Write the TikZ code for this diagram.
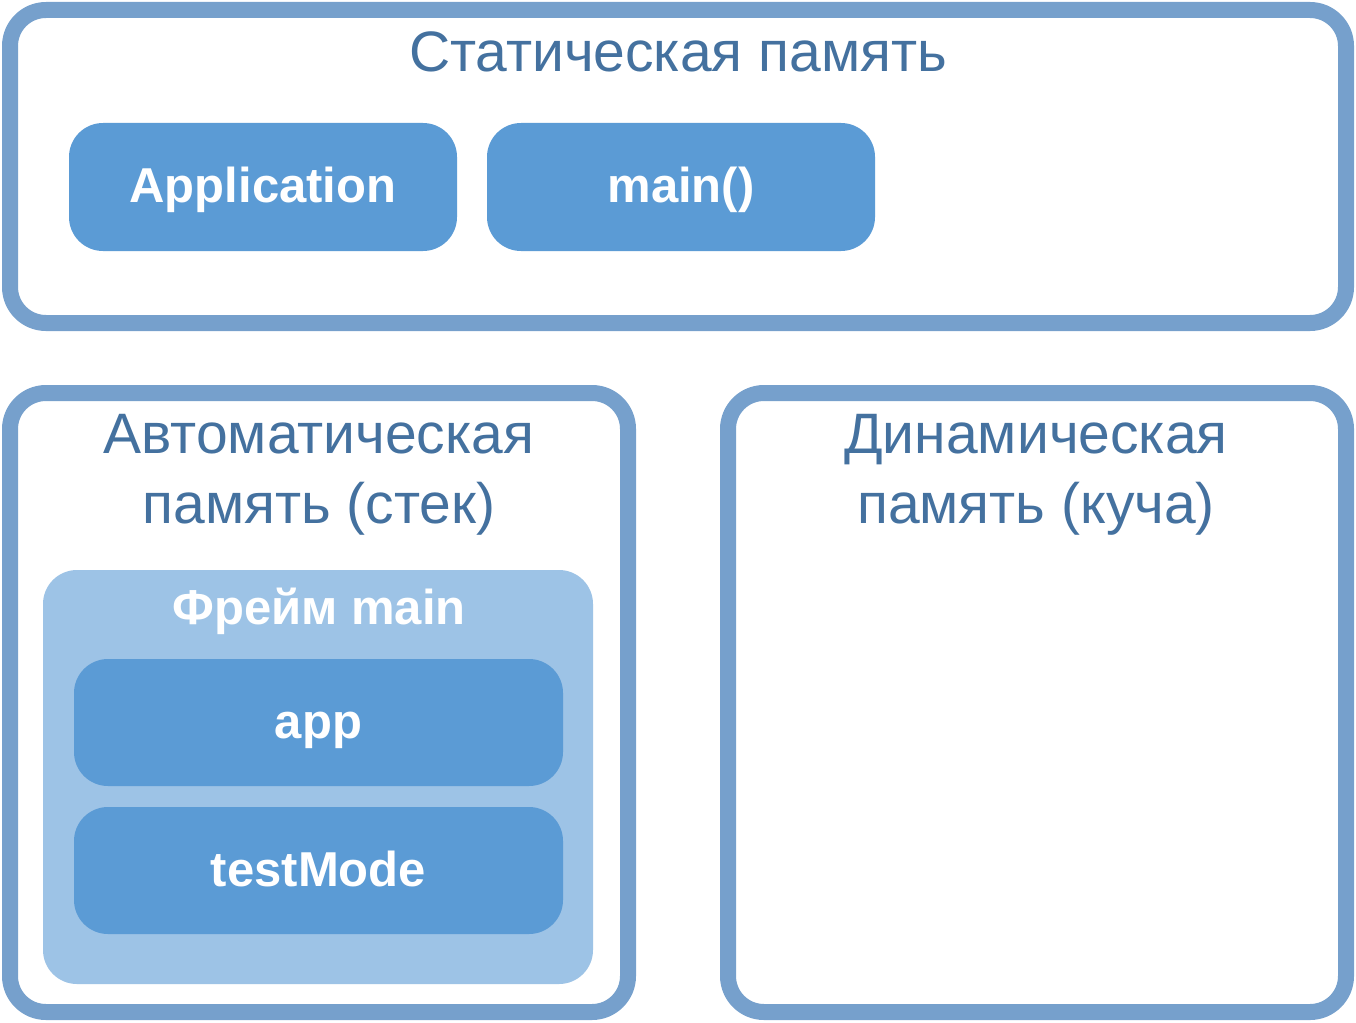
\documentclass[tikz,border=0pt]{standalone}
\usepackage{fontspec}
\setmainfont{Liberation Sans}
\definecolor{bordc}{HTML}{76A0CC}
\definecolor{itemc}{HTML}{5B9BD5}
\definecolor{framec}{HTML}{9DC3E6}
\definecolor{titlec}{HTML}{44719F}
\begin{document}
\begin{tikzpicture}[x=1pt,y=-1pt,
  region/.style={draw=bordc, line width=16pt, rounded corners=36pt, fill=white, inner sep=0pt, outer sep=0pt},
  item/.style={fill=itemc, rounded corners=34pt, inner sep=0pt, outer sep=0pt},
  framebox/.style={fill=framec, rounded corners=34pt, inner sep=0pt, outer sep=0pt},
  title/.style={text=titlec, font=\fontsize{57}{70}\selectfont, anchor=base, inner sep=0pt},
  itemtext/.style={text=white, font=\fontsize{49}{58}\selectfont\bfseries, anchor=base, inner sep=0pt},
]
\useasboundingbox (0,0) rectangle (1356,1022);
% regions
\node[region, minimum width=1336pt, minimum height=313pt] (static) at (678,166.5) {};
\node[region, minimum width=618pt, minimum height=619pt] (stack) at (319,702.5) {};
\node[region, minimum width=618pt, minimum height=619pt] (heap) at (1037,702.5) {};
% static items
\node[item, minimum width=388pt, minimum height=128pt] (appbox) at (263,187) {};
\node[item, minimum width=388pt, minimum height=128pt] (mainbox) at (681,187) {};
% frame
\node[framebox, minimum width=550pt, minimum height=414pt] (frame) at (318,777) {};
\node[item, minimum width=489pt, minimum height=127pt] (appvar) at (318.5,722.5) {};
\node[item, minimum width=489pt, minimum height=127pt] (testvar) at (318.5,870.5) {};
% titles
\node[title] (tstatic) at (678,72) {Статическая память};
\node[title] (tstack1) at (319,453) {Автоматическая};
\node[title] (tstack2) at (319,523) {память (стек)};
\node[title] (theap1) at (1036,453) {Динамическая};
\node[title] (theap2) at (1036,523) {память (куча)};
% item texts
\node[itemtext] (lapp) at (263,202) {Application};
\node[itemtext] (lmain) at (681,202) {main()};
\node[itemtext] (lframe) at (319,624) {Фрейм main};
\node[itemtext] (lappvar) at (318.5,738) {app};
\node[itemtext] (ltest) at (318.5,886) {testMode};
\end{tikzpicture}
\end{document}
